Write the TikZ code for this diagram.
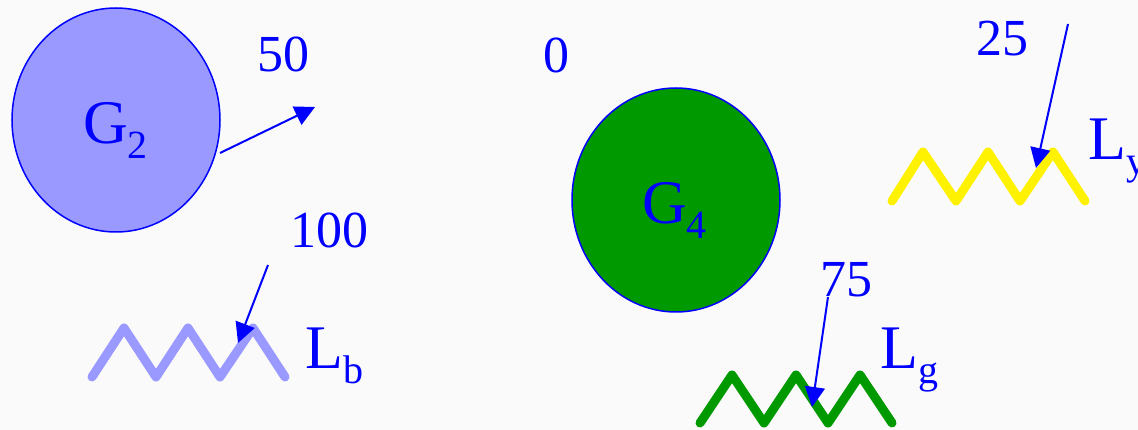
\documentclass[tikz,border=0pt]{standalone}
\usepackage{fontspec}
\setmainfont{Liberation Serif}
\usetikzlibrary{shapes.geometric,arrows.meta}
\definecolor{bg}{RGB}{250,250,250}
\definecolor{lblue}{RGB}{153,153,255}
\definecolor{dgreen}{RGB}{0,153,0}
\definecolor{pblue}{RGB}{0,0,255}
\newcommand{\mysub}[1]{\raisebox{-15pt}{\fontsize{40}{40}\selectfont #1}}
\tikzset{
  ball/.style={ellipse, draw=pblue, line width=1.5pt, minimum width=208pt, minimum height=224pt, inner sep=0pt},
  numlab/.style={text=pblue, font=\fontsize{52}{56}\selectfont, inner sep=0pt, anchor=base},
  biglab/.style={text=pblue, font=\fontsize{62}{66}\selectfont, inner sep=0pt, anchor=base west},
  zig/.style={line width=9pt, line cap=round, line join=round},
  ptr/.style={draw=pblue, line width=2pt, -{Triangle[length=20pt,width=20pt]}, pblue}
}
\begin{document}
\begin{tikzpicture}[x=1pt,y=-1pt]
\fill[bg] (0,0) rectangle (1138,430);
\useasboundingbox (0,0) rectangle (1138,430);

% balls
\node[ball, fill=lblue] (g2) at (116,120) {};
\node[biglab] (g2lab) at (83,144) {G\mysub{2}};
\node[ball, fill=dgreen] (g4) at (676,200) {};
\node[biglab] (g4lab) at (642,224) {G\mysub{4}};

% zigzags
\draw[zig, lblue] (92,377) -- (124,328) -- (156,377) -- (188,328) -- (220,377) -- (253,328) -- (285,377);
\draw[zig, yellow] (892,201) -- (923,152) -- (956,201) -- (988,152) -- (1020,201) -- (1053,152) -- (1085,201);
\draw[zig, dgreen] (700,423) -- (732,375) -- (764,423) -- (796,375) -- (828,423) -- (860,375) -- (892,423);

% labels
\node[biglab] (lb) at (305,368) {L\mysub{b}};
\node[biglab] (ly) at (1088,160) {L\mysub{y}};
\node[biglab] (lg) at (880,368) {L\mysub{g}};

\node[numlab] (n50) at (283,72) {50};
\node[numlab] (n100) at (329,248) {100};
\node[numlab] (n0) at (556,73) {0};
\node[numlab] (n25) at (1002,56) {25};
\node[numlab] (n75) at (846,297) {75};

% arrows
\coordinate (a50s) at (220,153);
\coordinate (a50e) at (315,107);
\coordinate (a100s) at (268,265);
\coordinate (a100e) at (238,343);
\coordinate (a25s) at (1068,24);
\coordinate (a25e) at (1036,168);
\coordinate (a75s) at (828,297);
\coordinate (a75e) at (812,407);
\draw[ptr] (a50s) -- (a50e);
\draw[ptr] (a100s) -- (a100e);
\draw[ptr] (a25s) -- (a25e);
\draw[ptr] (a75s) -- (a75e);
\end{tikzpicture}
\end{document}
